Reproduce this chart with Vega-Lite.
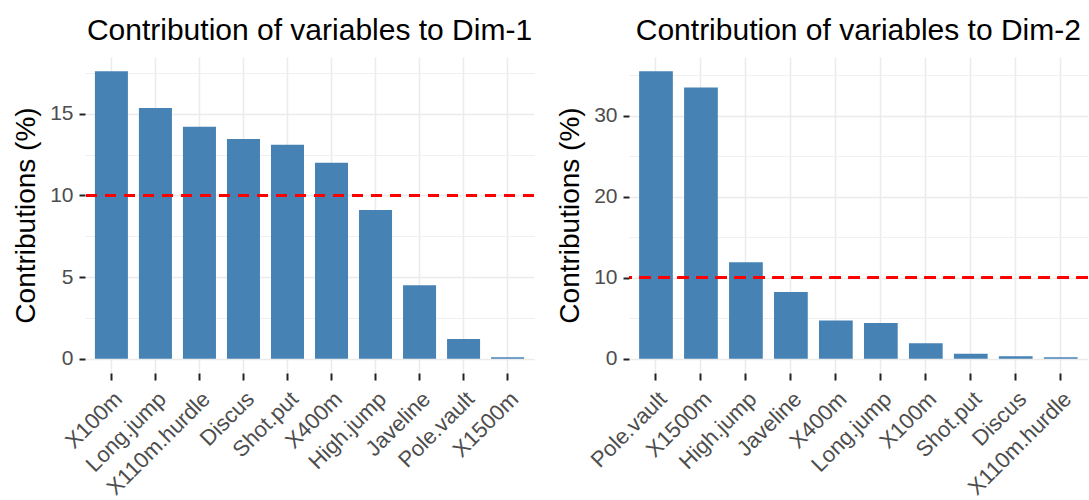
{
  "$schema": "https://vega.github.io/schema/vega-lite/v6.json",
  "background": "white",
  "padding": {"left": 12, "top": 16, "right": 0, "bottom": 0},
  "bounds": "flush",
  "spacing": 95,
  "config": {
    "font": "Liberation Sans",
    "view": {"stroke": null},
    "title": {"font": "Liberation Sans", "fontSize": 30, "fontWeight": "normal", "color": "black", "anchor": "middle", "frame": "group", "baseline": "alphabetic", "offset": 11},
    "axis": {"domain": false, "labelFont": "Liberation Sans", "titleFont": "Liberation Sans"}
  },
  "datasets": {
    "contrib": [
      {"dim": "Dim-1", "variable": "X100m", "contrib": 17.6},
      {"dim": "Dim-1", "variable": "Long.jump", "contrib": 15.35},
      {"dim": "Dim-1", "variable": "X110m.hurdle", "contrib": 14.2},
      {"dim": "Dim-1", "variable": "Discus", "contrib": 13.45},
      {"dim": "Dim-1", "variable": "Shot.put", "contrib": 13.1},
      {"dim": "Dim-1", "variable": "X400m", "contrib": 12.0},
      {"dim": "Dim-1", "variable": "High.jump", "contrib": 9.1},
      {"dim": "Dim-1", "variable": "Javeline", "contrib": 4.5},
      {"dim": "Dim-1", "variable": "Pole.vault", "contrib": 1.2},
      {"dim": "Dim-1", "variable": "X1500m", "contrib": 0.08},
      {"dim": "Dim-2", "variable": "Pole.vault", "contrib": 35.5},
      {"dim": "Dim-2", "variable": "X1500m", "contrib": 33.5},
      {"dim": "Dim-2", "variable": "High.jump", "contrib": 11.9},
      {"dim": "Dim-2", "variable": "Javeline", "contrib": 8.25},
      {"dim": "Dim-2", "variable": "X400m", "contrib": 4.7},
      {"dim": "Dim-2", "variable": "Long.jump", "contrib": 4.4},
      {"dim": "Dim-2", "variable": "X100m", "contrib": 1.9},
      {"dim": "Dim-2", "variable": "Shot.put", "contrib": 0.6},
      {"dim": "Dim-2", "variable": "Discus", "contrib": 0.3},
      {"dim": "Dim-2", "variable": "X110m.hurdle", "contrib": 0.18}
    ]
  },
  "hconcat": [
    {
      "width": 449,
      "height": 316,
      "title": {"text": "Contribution of variables to Dim-1"},
      "data": {"name": "contrib"},
      "transform": [{"filter": "datum.dim === 'Dim-1'"}],
      "layer": [
        {
          "mark": {"type": "bar", "color": "#4682B4"},
          "encoding": {
            "x": {
              "field": "variable", "type": "nominal", "sort": "-y",
              "scale": {"paddingInner": 0.25, "paddingOuter": 0.225},
              "axis": {"title": null, "labelAngle": -45, "labelAlign": "right", "labelBaseline": "top", "labelFontSize": 22, "labelColor": "#4D4D4D", "labelPadding": 8, "labelOverlap": false, "labelBound": false, "tickSize": 7, "tickWidth": 2, "tickColor": "#222222", "grid": true, "gridColor": "#EBEBEB", "gridWidth": 1.5, "bandPosition": 0.5}
            },
            "y": {
              "field": "contrib", "type": "quantitative",
              "scale": {"domain": [-0.88, 18.48], "nice": false, "zero": false},
              "axis": {
                "title": "Contributions (%)", "titleFontSize": 28, "titleFontWeight": "normal", "titleColor": "black", "titleX": -50.5, "titleBaseline": "alphabetic",
                "values": [0, 2.5, 5, 7.5, 10, 12.5, 15, 17.5], "format": "d",
                "labelExpr": "datum.value % 5 === 0 ? datum.label : ''",
                "labelFontSize": 21, "labelColor": "#4D4D4D", "labelPadding": 6,
                "tickSize": 6, "tickWidth": 2,
                "tickColor": {"condition": {"test": "datum.value % 5 !== 0", "value": "transparent"}, "value": "#222222"},
                "grid": true,
                "gridColor": {"condition": {"test": "datum.value % 5 !== 0", "value": "#F0F0F0"}, "value": "#EBEBEB"},
                "gridWidth": {"condition": {"test": "datum.value % 5 !== 0", "value": 1.2}, "value": 1.6}
              }
            },
            "y2": {"datum": 0}
          }
        },
        {
          "mark": {"type": "rule", "color": "#FF0000", "strokeDash": [11, 8], "strokeWidth": 2.5},
          "encoding": {"y": {"datum": 10}}
        }
      ]
    },
    {
      "width": 458.7,
      "height": 316,
      "title": {"text": "Contribution of variables to Dim-2"},
      "data": {"name": "contrib"},
      "transform": [{"filter": "datum.dim === 'Dim-2'"}],
      "layer": [
        {
          "mark": {"type": "bar", "color": "#4682B4"},
          "encoding": {
            "x": {
              "field": "variable", "type": "nominal", "sort": "-y",
              "scale": {"paddingInner": 0.25, "paddingOuter": 0.225},
              "axis": {"title": null, "labelAngle": -45, "labelAlign": "right", "labelBaseline": "top", "labelFontSize": 22, "labelColor": "#4D4D4D", "labelPadding": 8, "labelOverlap": false, "labelBound": false, "tickSize": 7, "tickWidth": 2, "tickColor": "#222222", "grid": true, "gridColor": "#EBEBEB", "gridWidth": 1.5, "bandPosition": 0.5}
            },
            "y": {
              "field": "contrib", "type": "quantitative",
              "scale": {"domain": [-1.775, 37.275], "nice": false, "zero": false},
              "axis": {
                "title": "Contributions (%)", "titleFontSize": 28, "titleFontWeight": "normal", "titleColor": "black", "titleX": -50.5, "titleBaseline": "alphabetic",
                "values": [0, 5, 10, 15, 20, 25, 30, 35], "format": "d",
                "labelExpr": "datum.value % 10 === 0 ? datum.label : ''",
                "labelFontSize": 21, "labelColor": "#4D4D4D", "labelPadding": 6,
                "tickSize": 6, "tickWidth": 2,
                "tickColor": {"condition": {"test": "datum.value % 10 !== 0", "value": "transparent"}, "value": "#222222"},
                "grid": true,
                "gridColor": {"condition": {"test": "datum.value % 10 !== 0", "value": "#F0F0F0"}, "value": "#EBEBEB"},
                "gridWidth": {"condition": {"test": "datum.value % 10 !== 0", "value": 1.2}, "value": 1.6}
              }
            },
            "y2": {"datum": 0}
          }
        },
        {
          "mark": {"type": "rule", "color": "#FF0000", "strokeDash": [11, 8], "strokeWidth": 2.5},
          "encoding": {"y": {"datum": 10}}
        }
      ]
    }
  ]
}
